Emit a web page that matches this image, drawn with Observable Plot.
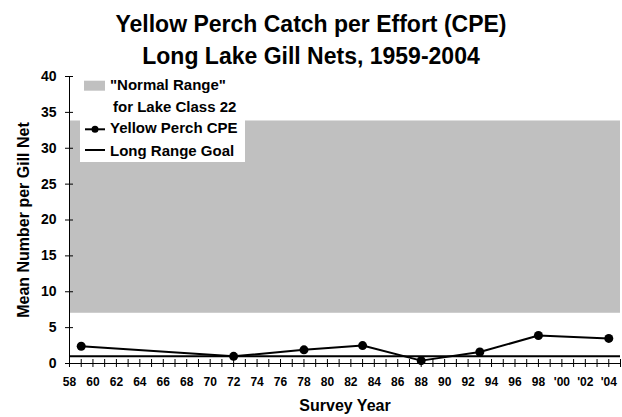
<!DOCTYPE html>
<html><head><meta charset="utf-8">
<script src="https://cdn.jsdelivr.net/npm/d3@7"></script>
<script src="https://cdn.jsdelivr.net/npm/@observablehq/plot@0.6"></script>
<style>
body{margin:0;background:#fff;font-family:"Liberation Sans",Arial,sans-serif;}
#wrap{position:relative;width:622px;height:417px;overflow:hidden}
#title{position:absolute;left:0;top:0;width:622px;z-index:2;box-sizing:border-box;padding-top:8px;text-align:center;font-weight:bold;font-size:23px;line-height:32px;color:#000}
#chart{position:absolute;left:0;top:62px}
#legend{position:absolute;left:80px;top:76px;width:165px;height:86px;background:#fff;font-weight:bold;font-size:15px;color:#000;z-index:3}
.row{position:absolute;left:0;width:165px;height:18px;line-height:18px;white-space:nowrap}
.row svg{position:absolute;left:0;top:0}
.row span{position:absolute;left:30px;top:0}
</style></head>
<body>
<div id="wrap">
<div id="title">Yellow Perch Catch per Effort (CPE)<br>Long Lake Gill Nets, 1959-2004</div>
<div id="chart"></div>
<div id="legend">
  <div class="row" style="top:0px"><svg width="28" height="18"><rect x="4" y="4.7" width="21" height="10" fill="#c0c0c0"/></svg><span>"Normal Range"</span></div>
  <div class="row" style="top:21.5px"><span style="left:33px">for Lake Class 22</span></div>
  <div class="row" style="top:43px"><svg width="28" height="18"><line x1="5" x2="25" y1="10.3" y2="10.3" stroke="#000" stroke-width="2"/><circle cx="15" cy="10.3" r="3.5" fill="#000"/></svg><span>Yellow Perch CPE</span></div>
  <div class="row" style="top:66px"><svg width="28" height="18"><line x1="5" x2="25" y1="8" y2="8" stroke="#000" stroke-width="2"/></svg><span>Long Range Goal</span></div>
</div>
</div>
<script>
// Data (years as 19xx offsets, e.g. 104 = 2004)
const surveyYears = [59, 72, 78, 83, 88, 93, 98, 104];
const yellowPerchCPE = [2.4, 1.0, 1.9, 2.5, 0.4, 1.6, 3.9, 3.5];
const normalRange = [7.0, 33.8];
const longRangeGoal = [1.0];
const xDomain = [58, 105];
const yDomain = [0, 40];
const xMinorTicks = d3.range(58, 106, 1);
const xLabelTicks = d3.range(58, 105, 2);
const yTicks = [0, 5, 10, 15, 20, 25, 30, 35, 40];
const xTickFormat = v => v < 100 ? String(v) : "'" + String(v - 100).padStart(2, "0");
const yLabel = "Mean Number per Gill Net";
const xLabel = "Survey Year";

const data = surveyYears.map((x, i) => ({x, y: yellowPerchCPE[i]}));

const chart = Plot.plot({
  width: 622, height: 355,
  marginTop: 14, marginBottom: 54, marginLeft: 69, marginRight: 2,
  x: {domain: xDomain, axis: null},
  y: {domain: yDomain, axis: null},
  style: {fontFamily: "'Liberation Sans', Arial, sans-serif", fontWeight: "bold", color: "#000", background: "transparent", overflow: "visible"},
  marks: [
    Plot.rect([normalRange], {x1: () => xDomain[0], x2: () => xDomain[1], y1: d => d[0], y2: d => d[1], fill: "#c0c0c0"}),
    Plot.ruleY(longRangeGoal, {x1: xDomain[0], x2: xDomain[1], stroke: "#000", strokeWidth: 2}),
    Plot.line(data, {x: "x", y: "y", stroke: "#000", strokeWidth: 2}),
    Plot.dot(data, {x: "x", y: "y", r: 4.5, fill: "#000"}),
    Plot.ruleY([yDomain[0]], {x1: xDomain[0], x2: xDomain[1], stroke: "#000", strokeWidth: 1}),
    Plot.ruleX([xDomain[0]], {y1: yDomain[0], y2: yDomain[1], stroke: "#000", strokeWidth: 1}),
    Plot.axisX(xMinorTicks, {tickSize: 4, tickFormat: () => "", label: null, stroke: "#000"}),
    Plot.axisX(xMinorTicks, {tickSize: 4, tickFormat: () => "", label: null, dy: -4, stroke: "#000"}),
    Plot.axisX(xLabelTicks, {tickSize: 0, tickPadding: 14, tickFormat: xTickFormat, label: null, fontSize: 12, fontWeight: "bold", fill: "#000"}),
    Plot.axisY(yTicks, {tickSize: 4, tickFormat: () => "", label: null, stroke: "#000"}),
    Plot.axisY(yTicks, {tickSize: 4, tickFormat: () => "", label: null, dx: 4, stroke: "#000"}),
    Plot.axisY(yTicks, {tickSize: 0, tickPadding: 13, label: null, fontSize: 14, fontWeight: "bold", fill: "#000"}),
    Plot.text([yLabel], {text: d => d, frameAnchor: "left", textAnchor: "middle", rotate: -90, dx: -46, fontSize: 16, fontWeight: "bold", fill: "#000"}),
    Plot.text([xLabel], {text: d => d, frameAnchor: "bottom", dy: 47, fontSize: 16, fontWeight: "bold", fill: "#000"})
  ]
});
document.getElementById("chart").appendChild(chart);
</script>
</body></html>
